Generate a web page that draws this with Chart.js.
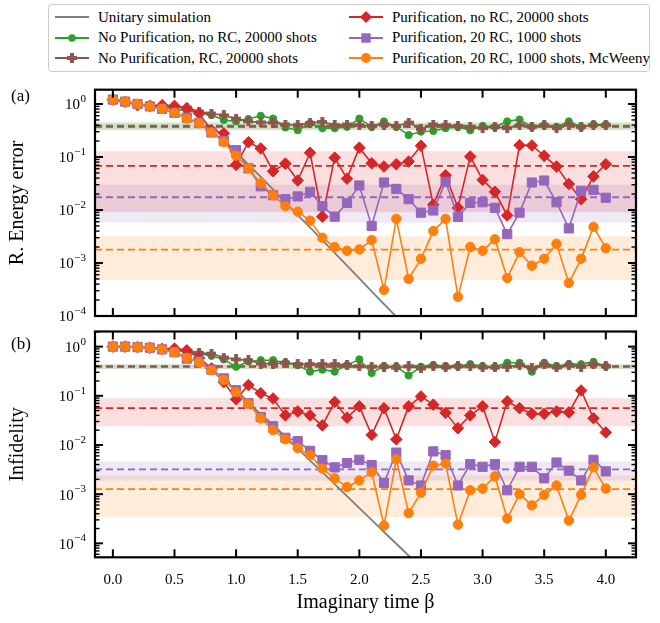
<!DOCTYPE html>
<html>
<head>
<meta charset="utf-8">
<script src="https://cdn.jsdelivr.net/npm/chart.js@4.4.1/dist/chart.umd.min.js"></script>
<style>
  body { margin: 0; background: #fff; width: 660px; height: 623px; position: relative; overflow: hidden;
         font-family: 'Liberation Serif', 'DejaVu Serif', serif; }
  canvas { position: absolute; left: 0; }
  #chartA { top: 78px; }
  #chartB { top: 324px; }
  #legend { position: absolute; left: 48px; top: 4px; width: 602px; height: 68px; box-sizing: border-box;
            border: 1px solid #cccccc; border-radius: 4px; padding-top: 2px;
            display: grid; grid-auto-flow: column; grid-template-rows: repeat(3, 20.5px);
            grid-template-columns: 294px auto; font-size: 15px; }
  .item { display: flex; align-items: center; white-space: nowrap; }
  .item svg { margin-left: 6px; margin-right: 9px; }
</style>
</head>
<body>
<div id="legend"></div>
<canvas id="chartA" width="660" height="246"></canvas>
<canvas id="chartB" width="660" height="299"></canvas>
<script>
// imaginary time grid
const beta = [0.0, 0.1, 0.2, 0.3, 0.4, 0.5, 0.6, 0.7, 0.8, 0.9, 1.0, 1.1, 1.2, 1.3, 1.4, 1.5, 1.6, 1.7, 1.8, 1.9, 2.0,
              2.1, 2.2, 2.3, 2.4, 2.5, 2.6, 2.7, 2.8, 2.9, 3.0, 3.1, 3.2, 3.3, 3.4, 3.5, 3.6, 3.7, 3.8, 3.9, 4.0];

// (a) relative energy error
const unitaryA = [1.22, 1.12, 1.0, 0.9, 0.8, 0.68, 0.54, 0.42, 0.3, 0.2, 0.125, 0.072, 0.042, 0.0245, 0.014, 0.008,
                  0.0047, 0.0027, 0.00155, 0.00089, 0.00051, 0.00029, 0.000168, 0.000097, 0.000056];
const noPurNoRcA = [1.21, 1.11, 1.0, 0.91, 0.86, 0.8, 0.75, 0.68, 0.62, 0.5, 0.47, 0.52, 0.6, 0.53, 0.36, 0.32, 0.43,
                    0.35, 0.35, 0.37, 0.53, 0.37, 0.47, 0.37, 0.26, 0.30, 0.31, 0.35, 0.37, 0.32, 0.385, 0.37, 0.47,
                    0.51, 0.37, 0.40, 0.37, 0.47, 0.37, 0.41, 0.41];
const noPurRcA = [1.21, 1.11, 1.0, 0.93, 0.9, 0.88, 0.85, 0.72, 0.66, 0.61, 0.53, 0.47, 0.45, 0.445, 0.41, 0.40, 0.44,
                  0.46, 0.40, 0.41, 0.40, 0.385, 0.41, 0.385, 0.445, 0.34, 0.41, 0.40, 0.385, 0.37, 0.35, 0.37, 0.35,
                  0.40, 0.37, 0.40, 0.35, 0.41, 0.37, 0.40, 0.40];
const purNoRcA = [1.21, 1.1, 0.95, 0.92, 0.95, 0.92, 0.83, 0.66, 0.32, 0.28, 0.071, 0.19, 0.145, 0.054, 0.075, 0.036,
                  0.12, 0.0075, 0.097, 0.039, 0.15, 0.076, 0.066, 0.073, 0.082, 0.163, 0.0126, 0.045, 0.011, 0.102,
                  0.037, 0.022, 0.0079, 0.167, 0.165, 0.105, 0.066, 0.031, 0.016, 0.043, 0.073];
const pur20RcA = [1.21, 1.11, 1.0, 0.9, 0.81, 0.68, 0.55, 0.44, 0.29, 0.2, 0.135, 0.061, 0.028, 0.019, 0.016, 0.018,
                  0.022, 0.0118, 0.0075, 0.0136, 0.029, 0.0050, 0.033, 0.025, 0.016, 0.0089, 0.0098, 0.034, 0.0074,
                  0.0136, 0.014, 0.011, 0.0035, 0.0089, 0.033, 0.036, 0.014, 0.0045, 0.023, 0.024, 0.017];
const mcweenyA = [1.21, 1.11, 1.0, 0.9, 0.81, 0.68, 0.53, 0.43, 0.29, 0.19, 0.106, 0.061, 0.032, 0.019, 0.0118, 0.0093,
                  0.0063, 0.0030, 0.0020, 0.0017, 0.0018, 0.0027, 0.00031, 0.0068, 0.00050, 0.0012, 0.0040, 0.0068,
                  0.00023, 0.0020, 0.0017, 0.0028, 0.00052, 0.0016, 0.00089, 0.0012, 0.0023, 0.00042, 0.0012, 0.0048,
                  0.0019];
// averages and spread, order: green, brown, red, purple, orange
const meanA = [0.39, 0.37, 0.068, 0.0174, 0.00178];
const lowA = [0.33, 0.32, 0.0091, 0.0058, 0.00048];
const highA = [0.46, 0.43, 0.129, 0.030, 0.0032];

// (b) infidelity
const unitaryB = [1.0, 1.0, 0.98, 0.95, 0.88, 0.77, 0.6, 0.48, 0.33, 0.21, 0.13, 0.074, 0.042, 0.026, 0.0148, 0.0085,
                  0.0048, 0.0028, 0.0016, 0.00091, 0.00052, 0.0003, 0.00017, 0.000098, 0.000056, 0.000032];
const noPurNoRcB = [1.0, 1.0, 0.98, 0.95, 0.9, 0.84, 0.8, 0.72, 0.65, 0.55, 0.39, 0.5, 0.53, 0.53, 0.47, 0.42, 0.31,
                    0.34, 0.31, 0.42, 0.55, 0.29, 0.4, 0.39, 0.26, 0.39, 0.42, 0.4, 0.4, 0.44, 0.4, 0.39, 0.47, 0.47,
                    0.31, 0.47, 0.4, 0.44, 0.44, 0.49, 0.4];
const noPurRcB = [1.0, 1.0, 0.98, 0.95, 0.9, 0.86, 0.82, 0.74, 0.72, 0.6, 0.55, 0.53, 0.45, 0.45, 0.47, 0.44, 0.44,
                  0.44, 0.44, 0.42, 0.4, 0.39, 0.39, 0.377, 0.4, 0.36, 0.4, 0.377, 0.4, 0.4, 0.377, 0.377, 0.389, 0.42,
                  0.36, 0.44, 0.377, 0.42, 0.389, 0.44, 0.4];
const purNoRcB = [1.0, 1.0, 0.98, 0.95, 0.9, 0.91, 0.84, 0.59, 0.36, 0.19, 0.085, 0.165, 0.113, 0.088, 0.04, 0.048,
                  0.04, 0.025, 0.075, 0.036, 0.061, 0.016, 0.056, 0.013, 0.061, 0.097, 0.066, 0.045, 0.022, 0.04,
                  0.061, 0.0115, 0.077, 0.056, 0.043, 0.043, 0.048, 0.046, 0.128, 0.035, 0.018];
const pur20RcB = [1.0, 1.0, 0.98, 0.95, 0.88, 0.77, 0.57, 0.5, 0.34, 0.226, 0.13, 0.071, 0.037, 0.024, 0.014, 0.012,
                  0.0076, 0.0049, 0.0035, 0.0043, 0.005, 0.0039, 0.0017, 0.007, 0.0019, 0.0015, 0.0074, 0.0062, 0.0015,
                  0.0041, 0.0036, 0.0041, 0.0012, 0.0036, 0.0036, 0.0021, 0.0044, 0.003, 0.0019, 0.005, 0.0029];
const mcweenyB = [1.0, 1.0, 0.98, 0.95, 0.88, 0.77, 0.59, 0.48, 0.33, 0.21, 0.118, 0.069, 0.035, 0.02, 0.013, 0.0086,
                  0.0062, 0.0033, 0.0021, 0.0014, 0.0019, 0.0028, 0.00023, 0.0051, 0.00041, 0.00107, 0.0038, 0.0042,
                  0.00024, 0.0012, 0.0013, 0.0023, 0.00032, 0.001, 0.00059, 0.00097, 0.0015, 0.00029, 0.00097, 0.0035,
                  0.0013];
const meanB = [0.40, 0.39, 0.056, 0.0032, 0.00126];
const lowB = [0.345, 0.35, 0.024, 0.0019, 0.000345];
const highB = [0.45, 0.43, 0.089, 0.0046, 0.0024];

// axes
const xTickValues = [0.0, 0.5, 1.0, 1.5, 2.0, 2.5, 3.0, 3.5, 4.0];
const xTickLabels = ['0.0', '0.5', '1.0', '1.5', '2.0', '2.5', '3.0', '3.5', '4.0'];
const yTickDecades = [1e-4, 1e-3, 1e-2, 1e-1, 1];
const yTickExponents = ['\u22124', '\u22123', '\u22122', '\u22121', '0'];
const labels = ['Unitary simulation', 'No Purification, no RC, 20000 shots', 'No Purification, RC, 20000 shots',
                'Purification, no RC, 20000 shots', 'Purification, 20 RC, 1000 shots',
                'Purification, 20 RC, 1000 shots, McWeeny'];

const X_MIN = -0.145, X_MAX = 4.245;
const C = { gray: '#7f7f7f', green: '#2ca02c', brown: '#8c564b', red: '#d62728', purple: '#9467bd', orange: '#ff7f0e' };
const bandColors = [C.green, C.brown, C.red, C.purple, C.orange];
const FONT = "'Liberation Serif', 'DejaVu Serif', serif";

Chart.defaults.font.family = FONT;
Chart.defaults.color = '#000';

function plusMarker(color, s) {
    const c = document.createElement('canvas');
    c.width = s; c.height = s;
    const g = c.getContext('2d');
    g.fillStyle = color;
    const t = s * 0.38;
    g.fillRect((s - t) / 2, 0, t, s);
    g.fillRect(0, (s - t) / 2, s, t);
    return c;
}

const markers = [
    { color: C.green, style: 'circle', r: 3.6 },
    { color: C.brown, style: plusMarker(C.brown, 10), r: 5 },
    { color: C.red, style: 'rectRot', r: 5.8 },
    { color: C.purple, style: 'rect', r: 6.5 },
    { color: C.orange, style: 'circle', r: 4.7 }
];

function rgba(hex, a) {
    const n = parseInt(hex.slice(1), 16);
    return `rgba(${n >> 16}, ${(n >> 8) & 255}, ${n & 255}, ${a})`;
}
const pts = (ys) => ys.map((v, i) => ({ x: beta[i], y: v }));
const flat = (v) => [{ x: X_MIN, y: v }, { x: X_MAX, y: v }];

function buildDatasets(unitary, series, mean, low, high) {
    const ds = [];
    bandColors.forEach((c, i) => {
        ds.push({ data: flat(high[i]), fill: { value: low[i] }, backgroundColor: rgba(c, 0.15),
                  borderColor: 'rgba(0,0,0,0)', borderWidth: 0, pointRadius: 0, order: 20 });
        ds.push({ data: flat(mean[i]), borderColor: c, borderWidth: 1.8, borderDash: [7, 4],
                  pointRadius: 0, fill: false, order: 15 - i });
    });
    ds.push({ data: pts(unitary), borderColor: C.gray, borderWidth: 1.8, pointRadius: 0, fill: false, order: 10 });
    series.forEach((s, i) => {
        const m = markers[i];
        ds.push({ data: pts(s), borderColor: m.color, backgroundColor: m.color, borderWidth: 1.6,
                  pointStyle: m.style, pointRadius: m.r, pointBorderWidth: 1, pointBorderColor: m.color,
                  pointBackgroundColor: m.color, fill: false, order: 9 - i });
    });
    return ds;
}

function logTicks(min, max) {
    const out = [];
    for (let e = -5; e <= 0; e++) {
        for (let m = 1; m <= 9; m++) {
            const v = Number(m + 'e' + e);
            if (v >= min * 0.999 && v <= max * 1.001) out.push({ value: v, major: m === 1 });
        }
    }
    return out;
}

// frame with inward ticks on all sides, power-of-ten labels, panel tag
const frameTicks = {
    id: 'frameTicks',
    afterDatasetsDraw(chart, args, opts) {
        const { ctx, chartArea: a, scales: { x, y } } = chart;
        ctx.save();
        ctx.strokeStyle = '#000';
        const seg = (x1, y1, x2, y2) => { ctx.beginPath(); ctx.moveTo(x1, y1); ctx.lineTo(x2, y2); ctx.stroke(); };
        ctx.lineWidth = 2;
        x.ticks.forEach(t => {
            const px = x.getPixelForValue(t.value);
            seg(px, a.bottom, px, a.bottom - 8);
            seg(px, a.top, px, a.top + 8);
        });
        y.ticks.forEach(t => {
            const py = y.getPixelForValue(t.value);
            const len = t.major ? 8 : 4.5;
            ctx.lineWidth = t.major ? 2 : 1.4;
            seg(a.left, py, a.left + len, py);
            seg(a.right, py, a.right - len, py);
        });
        ctx.lineWidth = 2.2;
        ctx.strokeRect(a.left, a.top, a.right - a.left, a.bottom - a.top);

        ctx.fillStyle = '#000';
        ctx.textAlign = 'right';
        ctx.textBaseline = 'middle';
        const right = a.left - 9;
        yTickDecades.forEach((d, k) => {
            if (d < y.min * 0.999 || d > y.max * 1.001) return;
            const py = y.getPixelForValue(d);
            ctx.font = `11px ${FONT}`;
            const w = ctx.measureText(yTickExponents[k]).width;
            ctx.fillText(yTickExponents[k], right, py - 5);
            ctx.font = `15px ${FONT}`;
            ctx.fillText('10', right - w - 0.5, py + 1.5);
        });

        ctx.textAlign = 'left';
        ctx.font = `17px ${FONT}`;
        ctx.fillText(opts.tag, 11, opts.tagY);
        ctx.restore();
    }
};

function makePanel(id, datasets, cfg) {
    return new Chart(document.getElementById(id), {
        type: 'line',
        data: { datasets },
        plugins: [frameTicks],
        options: {
            responsive: false,
            animation: false,
            devicePixelRatio: 1,
            layout: { padding: { left: 0, right: 24, top: cfg.padTop, bottom: 0 } },
            plugins: {
                legend: { display: false },
                tooltip: { enabled: false },
                frameTicks: { tag: cfg.tag, tagY: cfg.tagY }
            },
            scales: {
                x: {
                    type: 'linear',
                    min: X_MIN,
                    max: X_MAX,
                    afterBuildTicks: (s) => { s.ticks = xTickValues.map(v => ({ value: v })); },
                    afterFit: (s) => { s.height = cfg.xHeight; s.paddingLeft = 0; s.paddingRight = 0; },
                    grid: { display: false, drawTicks: false },
                    border: { display: false },
                    ticks: {
                        display: cfg.showX,
                        autoSkip: false,
                        maxRotation: 0,
                        padding: 14,
                        font: { size: 15 },
                        callback: (v, i) => xTickLabels[i]
                    },
                    title: {
                        display: cfg.showX,
                        text: 'Imaginary time β',
                        font: { size: 20 },
                        padding: { top: 0, bottom: 8 }
                    }
                },
                y: {
                    type: 'logarithmic',
                    min: cfg.yMin,
                    max: cfg.yMax,
                    afterBuildTicks: (s) => { s.ticks = logTicks(s.min, s.max); },
                    afterFit: (s) => { s.width = 95; s.paddingTop = 0; s.paddingBottom = 0; },
                    grid: { display: false, drawTicks: false },
                    border: { display: false },
                    ticks: { display: false },
                    title: {
                        display: true,
                        text: cfg.yTitle,
                        font: { size: 20 },
                        padding: { top: 6, bottom: 0 }
                    }
                }
            }
        }
    });
}

makePanel('chartA', buildDatasets(unitaryA, [noPurNoRcA, noPurRcA, purNoRcA, pur20RcA, mcweenyA], meanA, lowA, highA), {
    padTop: 11.7, xHeight: 8, showX: false, yMin: 1e-4, yMax: 1.86,
    yTitle: 'R. Energy error', tag: '(a)', tagY: 19
});
makePanel('chartB', buildDatasets(unitaryB, [noPurNoRcB, noPurRcB, purNoRcB, pur20RcB, mcweenyB], meanB, lowB, highB), {
    padTop: 5.3, xHeight: 65.7, showX: true, yMin: 5.2e-5, yMax: 2.03,
    yTitle: 'Infidelity', tag: '(b)', tagY: 21
});

// legend, filled column by column
const legendEl = document.getElementById('legend');
const icons = [
    `<line x1="0" y1="6" x2="34" y2="6" stroke="${C.gray}" stroke-width="2"/>`,
    `<line x1="0" y1="6" x2="34" y2="6" stroke="${C.green}" stroke-width="2"/><circle cx="17" cy="6" r="3.8" fill="${C.green}"/>`,
    `<line x1="0" y1="6" x2="34" y2="6" stroke="${C.brown}" stroke-width="2"/><path d="M15 1h4v3h3v4h-3v3h-4v-3h-3v-4h3z" fill="${C.brown}"/>`,
    `<line x1="0" y1="6" x2="34" y2="6" stroke="${C.red}" stroke-width="2"/><path d="M17 0L23 6L17 12L11 6Z" fill="${C.red}"/>`,
    `<line x1="0" y1="6" x2="34" y2="6" stroke="${C.purple}" stroke-width="2"/><rect x="12.3" y="1.3" width="9.4" height="9.4" fill="${C.purple}"/>`,
    `<line x1="0" y1="6" x2="34" y2="6" stroke="${C.orange}" stroke-width="2"/><circle cx="17" cy="6" r="5" fill="${C.orange}"/>`
];
labels.forEach((text, i) => {
    const item = document.createElement('div');
    item.className = 'item';
    item.innerHTML = `<svg width="34" height="12" viewBox="0 0 34 12">${icons[i]}</svg><span>${text}</span>`;
    legendEl.appendChild(item);
});
</script>
</body>
</html>
